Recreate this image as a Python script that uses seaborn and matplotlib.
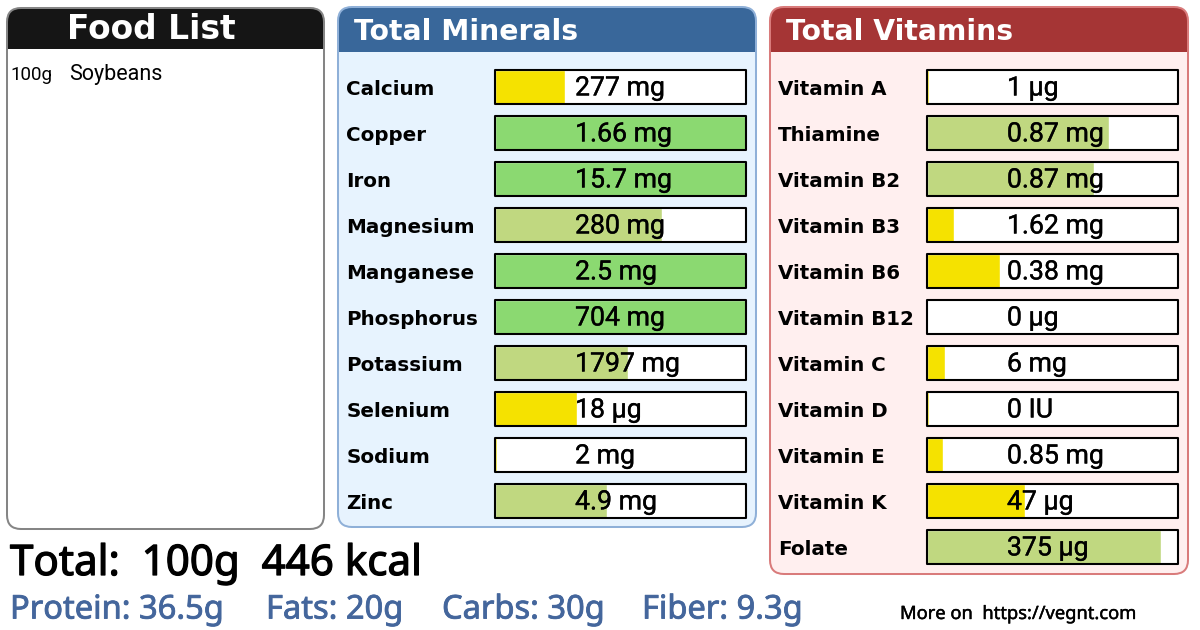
import matplotlib
matplotlib.use("Agg")
import matplotlib.pyplot as plt
import matplotlib.patheffects as pe
import matplotlib.transforms as mtrans
import seaborn as sns
import pandas as pd
from matplotlib.patches import FancyBboxPatch, Rectangle

# values, pct = how full the bar is
mineral_names = ["Calcium", "Copper", "Iron", "Magnesium", "Manganese", "Phosphorus", "Potassium", "Selenium", "Sodium", "Zinc"]
mineral_pct = [28, 100, 100, 66.6, 100, 100, 53, 32.6, 0.8, 44.6]
mineral_text = ["277 mg", "1.66 mg", "15.7 mg", "280 mg", "2.5 mg", "704 mg", "1797 mg", "18 µg", "2 mg", "4.9 mg"]
mineral_level = ["low", "full", "full", "mid", "full", "full", "mid", "low", "low", "mid"]

vitamin_names = ["Vitamin A", "Thiamine", "Vitamin B2", "Vitamin B3", "Vitamin B6", "Vitamin B12", "Vitamin C", "Vitamin D", "Vitamin E", "Vitamin K", "Folate"]
vitamin_pct = [0.6, 72.6, 66.6, 10.8, 29.2, 0, 7.2, 0.6, 6.4, 39.2, 93.4]
vitamin_text = ["1 µg", "0.87 mg", "0.87 mg", "1.62 mg", "0.38 mg", "0 µg", "6 mg", "0 IU", "0.85 mg", "47 µg", "375 µg"]
vitamin_level = ["low", "mid", "mid", "low", "low", "low", "low", "low", "low", "low", "mid"]

level_colors = {"low": "#f5e200", "mid": "#c0d880", "full": "#8bd971"}

macros = ["Protein: 36.5g", "Fats: 20g", "Carbs: 30g", "Fiber: 9.3g"]
macro_x = [10, 266, 442, 642]

sns.set_theme(style="white")
plt.rcParams["font.family"] = ["DejaVu Sans"]

fig = plt.figure(figsize=(12, 6.3), dpi=100)
bg = fig.add_axes([0, 0, 1, 1])
bg.set_xlim(0, 1200)
bg.set_ylim(630, 0)
bg.axis("off")


def thick(color, width):
    # the original font is a bit heavier than anything installed
    return [pe.withStroke(linewidth=width, foreground=color)]


def panel(x0, y0, x1, y1, border, fill, head, head_y, title, title_x, title_ha, title_y, size):
    box = dict(boxstyle="round,pad=0,rounding_size=14", mutation_aspect=1)
    body = FancyBboxPatch((x0, y0), x1 - x0, y1 - y0, fc=fill, ec="none", **box)
    bg.add_patch(body)
    top = Rectangle((x0, y0), x1 - x0, head_y - y0, fc=head, ec="none")
    bg.add_patch(top)
    top.set_clip_path(body)
    bg.add_patch(FancyBboxPatch((x0, y0), x1 - x0, y1 - y0, fc="none", ec=border, lw=1.45, **box))
    bg.text(title_x, title_y, title, color="white", fontsize=size, fontweight="bold", ha=title_ha, va="center")


panel(7, 8, 324, 529, "#858585", "white", "#151515", 49, "Food List", 151, "center", 29.5, 23.7)
panel(338, 7, 756, 527, "#8fb0d8", "#e7f3fe", "#39679a", 52, "Total Minerals", 354, "left", 31.5, 20.3)
panel(770, 7, 1188, 574, "#d97b7b", "#ffefef", "#a53535", 52, "Total Vitamins", 786, "left", 31.5, 20.3)

bg.text(10, 74.5, "100g", family="Roboto", fontsize=13.5, va="center", color="black")
bg.text(69.5, 74.5, "Soybeans", family="Roboto", fontsize=15.5, va="center", color="black")

bg.text(10, 564, "Total:  100g  446 kcal", family="Noto Sans", fontsize=30.3, va="center", color="black",
        path_effects=thick("black", 0.9))
for label, x in zip(macros, macro_x):
    bg.text(x, 610, label, family="Noto Sans", fontsize=23.5, va="center", color="#44669c",
            path_effects=thick("#44669c", 0.6))
bg.text(900, 614, "More on  https://vegnt.com", family="Noto Sans", fontsize=13.2, va="center", color="black",
        path_effects=thick("black", 0.3))


def bar_block(names, pct, texts, levels, left, right, first_y):
    n = len(names)
    top_px = first_y - 23
    bottom_px = first_y + 46 * (n - 1) + 23
    ax = fig.add_axes([left / 1200, 1 - bottom_px / 630, (right - left) / 1200, (bottom_px - top_px) / 630])
    ax.patch.set_alpha(0)
    df = pd.DataFrame({"name": names, "pct": pct, "level": levels, "track": [100] * n})
    sns.barplot(data=df, x="track", y="name", color="white", saturation=1, width=0.733, ax=ax)
    sns.barplot(data=df, x="pct", y="name", hue="level", palette=level_colors, saturation=1,
                dodge=False, legend=False, width=0.733, ax=ax)
    outline_from = len(ax.patches)
    sns.barplot(data=df, x="track", y="name", color="white", saturation=1, width=0.733, ax=ax)
    for bar in ax.patches[outline_from:]:
        bar.set_facecolor("none")
        bar.set_edgecolor("black")
        bar.set_linewidth(1.5)
        bar.set_joinstyle("round")
        bar.set_clip_on(False)
        bar.set_zorder(4)
    ax.set_xlim(0, 100)
    ax.set_ylim(n - 0.5, -0.5)
    ax.set_xlabel("")
    ax.set_ylabel("")
    ax.set_xticks([])
    sns.despine(ax=ax, left=True, bottom=True)
    ax.tick_params(axis="y", length=0, pad=107.4, labelsize=14.3)
    nudge = mtrans.ScaledTranslation(0, -0.5 / 100, fig.dpi_scale_trans)
    for tick in ax.get_yticklabels():
        tick.set_ha("left")
        tick.set_fontweight("bold")
        tick.set_color("black")
        tick.set_transform(tick.get_transform() + nudge)
    for i, label in enumerate(texts):
        ax.text(31.8, i + 0.02, label, family="Roboto", fontsize=19.2, va="center", ha="left", color="black",
                zorder=5, path_effects=thick("black", 0.25))
    return ax


bar_block(mineral_names, mineral_pct, mineral_text, mineral_level, 495.3, 746, 87)
bar_block(vitamin_names, vitamin_pct, vitamin_text, vitamin_level, 927.3, 1177.7, 87)

fig.savefig("out.png", dpi=100)
